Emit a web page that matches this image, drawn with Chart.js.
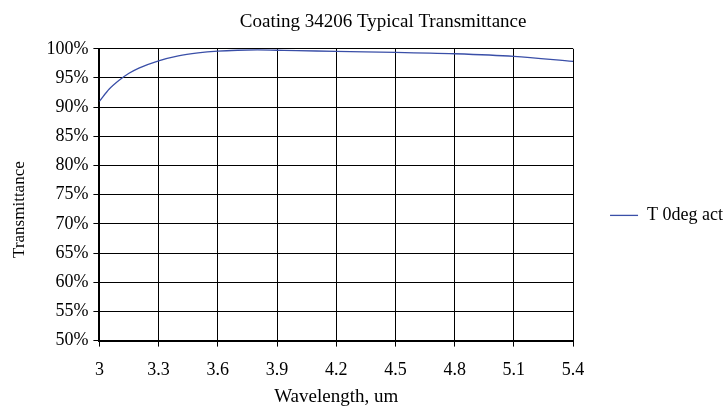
<!DOCTYPE html>
<html>
<head>
<meta charset="utf-8">
<script src="https://cdn.jsdelivr.net/npm/chart.js@4"></script>
<style>
  html, body { margin: 0; padding: 0; background: #fff; }
  #wrap { width: 723px; height: 406px; }
</style>
</head>
<body>
<div id="wrap"><canvas id="transChart" width="723" height="406"></canvas></div>
<script>
// Coating 34206 transmittance
const wavelengths = [3.0, 3.05, 3.1, 3.15, 3.2, 3.3, 3.4, 3.5, 3.6, 3.7, 3.8, 3.9, 4.0, 4.2, 4.5, 4.8, 5.1, 5.4];
const transmittance = [91.0, 93.1, 94.6, 95.8, 96.7, 97.95, 98.8, 99.3, 99.6, 99.75, 99.8, 99.75, 99.7, 99.55, 99.4, 99.15, 98.7, 97.85];
const seriesName = 'T 0deg act';

const serif = "'Liberation Serif', 'Times New Roman', serif";
const tickFont = { family: serif, size: 18, weight: 'normal' };

const ctx = document.getElementById('transChart').getContext('2d');

const chart = new Chart(ctx, {
    type: 'line',
    data: {
        datasets: [{
            label: seriesName,
            data: wavelengths.map((w, i) => ({ x: w, y: transmittance[i] })),
            borderColor: '#3a4fa8',
            backgroundColor: '#3a4fa8',
            borderWidth: 1.3,
            pointRadius: 0,
            fill: false,
            cubicInterpolationMode: 'monotone'
        }]
    },
    options: {
        responsive: false,
        animation: false,
        layout: { padding: { top: 4, right: -10, left: 0, bottom: -2 } },
        plugins: {
            title: {
                display: true,
                // leading spaces nudge the centred title a little to the right, like the original
                text: '       Coating 34206 Typical Transmittance',
                color: '#000',
                font: { family: serif, size: 19, weight: 'normal' },
                padding: { top: 7, bottom: 15 }
            },
            legend: {
                display: true,
                position: 'right',
                align: 'center',
                // invisible title just pushes the entry down a bit
                title: {
                    display: true,
                    text: ' ',
                    color: 'rgba(0,0,0,0)',
                    font: { size: 4 },
                    padding: 7
                },
                labels: {
                    color: '#000',
                    font: tickFont,
                    usePointStyle: true,
                    pointStyle: 'line',
                    pointStyleWidth: 28,
                    padding: 37
                }
            },
            tooltip: { enabled: false }
        },
        scales: {
            x: {
                type: 'linear',
                min: 3,
                max: 5.4,
                ticks: {
                    stepSize: 0.3,
                    color: '#000',
                    font: tickFont,
                    padding: 13,
                    maxRotation: 0,
                    callback: v => +v.toFixed(1)
                },
                grid: { color: '#000', lineWidth: 1, tickLength: 6 },
                border: { color: '#000', width: 2 },
                title: {
                    display: true,
                    text: 'Wavelength, um',
                    color: '#000',
                    font: { family: serif, size: 19, weight: 'normal' },
                    padding: { top: -9, bottom: 0 }
                }
            },
            y: {
                min: 50,
                max: 100,
                ticks: {
                    stepSize: 5,
                    color: '#000',
                    font: tickFont,
                    padding: 5,
                    callback: v => v + '%'
                },
                grid: { color: '#000', lineWidth: 1, tickLength: 6 },
                border: { color: '#000', width: 2 },
                title: {
                    display: true,
                    // trailing spaces move the rotated label slightly down
                    text: 'Transmittance       ',
                    color: '#000',
                    font: { family: serif, size: 17, weight: 'normal' },
                    padding: { top: 9, bottom: 12 }
                }
            }
        }
    }
});
</script>
</body>
</html>
